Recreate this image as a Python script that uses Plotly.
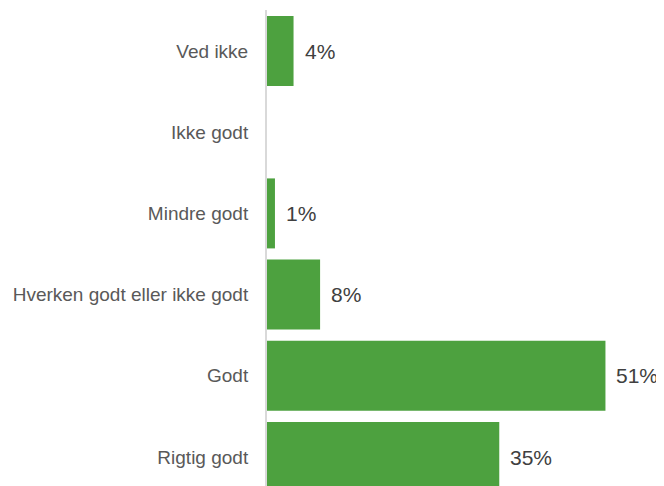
import plotly.graph_objects as go

# Kategorier (nederst -> øverst) og andele i procent
kategorier = ["Rigtig godt", "Godt", "Hverken godt eller ikke godt", "Mindre godt", "Ikke godt", "Ved ikke"]
andele = [35, 51, 8, 1.2, 0, 4]
etiketter = ["35%", "51%", "8%", "1%", "", "4%"]

groen = "#4DA13F"

fig = go.Figure(go.Bar(
    x=andele,
    y=kategorier,
    orientation="h",
    marker=dict(color=groen, line=dict(width=0)),
    hoverinfo="skip",
))

# Procent-etiketter lige efter hver søjle
for v, kat, tekst in zip(andele, kategorier, etiketter):
    if tekst:
        fig.add_annotation(
            x=v, y=kat, text=tekst, showarrow=False,
            xanchor="left", xshift=9,
            font=dict(family="Liberation Sans, Arial", size=21, color="#404040"),
        )

# siden har 8px body-margin, så figuren gøres tilsvarende mindre
fig.update_layout(
    width=656, height=478,
    margin=dict(l=259, r=32, t=2, b=0),
    paper_bgcolor="white", plot_bgcolor="white",
    bargap=0.138,
    showlegend=False,
    xaxis=dict(range=[0, 55], visible=False, fixedrange=True),
    yaxis=dict(
        type="category",
        range=[-0.357, 5.505],
        showgrid=False,
        showline=True, linecolor="#D9D9D9", linewidth=2,
        ticks="", ticklabelstandoff=13,
        tickfont=dict(family="Liberation Sans, Arial", size=19, color="#595959"),
        fixedrange=True,
    ),
)

fig.write_html("out.html")
